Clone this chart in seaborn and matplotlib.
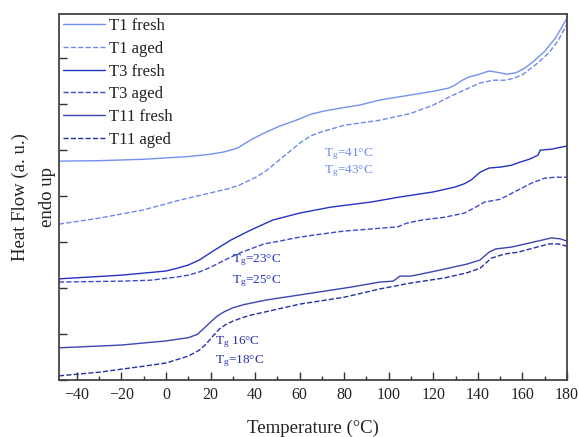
import matplotlib
matplotlib.use("Agg")
import matplotlib.pyplot as plt
import seaborn as sns
import pandas as pd
from matplotlib.ticker import MultipleLocator

# ---------------- data ----------------
t1_fresh_x = [-48, -30, -10, 0, 10, 20, 26, 32, 38, 44, 51, 59, 65, 71, 78, 87, 96, 110, 120, 127, 130, 133, 136, 140, 145, 149, 153, 157, 161, 165, 170, 175, 180]
t1_fresh_y = [4.76, 4.77, 4.80, 4.83, 4.86, 4.91, 4.96, 5.04, 5.22, 5.37, 5.52, 5.66, 5.78, 5.85, 5.91, 5.98, 6.09, 6.20, 6.28, 6.35, 6.42, 6.52, 6.59, 6.64, 6.72, 6.69, 6.65, 6.68, 6.78, 6.93, 7.15, 7.45, 7.87]

t1_aged_x = [-48, -30, -10, 6, 20, 28, 33, 40, 45, 50, 55, 60, 65, 70, 80, 96, 110, 120, 129, 135, 141, 147, 152, 156, 160, 166, 172, 176, 180]
t1_aged_y = [3.39, 3.52, 3.70, 3.91, 4.07, 4.16, 4.24, 4.40, 4.55, 4.75, 4.95, 5.15, 5.31, 5.40, 5.54, 5.65, 5.80, 5.98, 6.20, 6.33, 6.46, 6.52, 6.52, 6.56, 6.64, 6.86, 7.12, 7.38, 7.74]

t3_fresh_x = [-48, -20, 0, 5, 10, 15, 22, 29, 38, 48, 60, 74, 92, 105, 120, 130, 134, 137, 141, 145, 150, 155, 159, 163, 167, 168, 173, 180]
t3_fresh_y = [2.20, 2.28, 2.37, 2.43, 2.50, 2.61, 2.83, 3.04, 3.26, 3.48, 3.63, 3.76, 3.87, 3.98, 4.09, 4.20, 4.27, 4.35, 4.52, 4.61, 4.63, 4.67, 4.74, 4.80, 4.89, 5.00, 5.02, 5.09]

t3_aged_x = [-48, -20, -7, 5, 10, 15, 19, 22, 26, 29, 34, 38, 44, 51, 58, 66, 80, 96, 104, 108, 115, 125, 134, 139, 143, 150, 158, 164, 170, 175, 180]
t3_aged_y = [2.13, 2.15, 2.17, 2.24, 2.28, 2.35, 2.43, 2.50, 2.60, 2.67, 2.78, 2.85, 2.96, 3.02, 3.09, 3.15, 3.24, 3.30, 3.33, 3.41, 3.48, 3.54, 3.63, 3.76, 3.87, 3.93, 4.13, 4.28, 4.39, 4.41, 4.41]

t11_fresh_x = [-48, -20, 0, 10, 14, 17, 20, 23, 26, 30, 35, 45, 60, 83, 96, 102, 105, 110, 123, 135, 141, 145, 148, 155, 165, 173, 177, 180]
t11_fresh_y = [0.70, 0.76, 0.85, 0.92, 0.99, 1.12, 1.26, 1.39, 1.48, 1.57, 1.64, 1.74, 1.85, 2.02, 2.13, 2.15, 2.26, 2.26, 2.39, 2.52, 2.61, 2.78, 2.85, 2.89, 3.00, 3.09, 3.07, 3.02]

t11_aged_x = [-48, -30, -10, 0, 10, 15, 18, 21, 24, 27, 30, 34, 38, 50, 60, 80, 96, 110, 125, 135, 141, 146, 152, 158, 165, 172, 176, 180]
t11_aged_y = [0.09, 0.17, 0.30, 0.37, 0.52, 0.65, 0.78, 0.95, 1.11, 1.21, 1.28, 1.35, 1.41, 1.54, 1.65, 1.80, 1.98, 2.11, 2.22, 2.33, 2.43, 2.65, 2.74, 2.78, 2.87, 2.96, 2.96, 2.91]

series_names = ["T1 fresh", "T1 aged", "T3 fresh", "T3 aged", "T11 fresh", "T11 aged"]
series_x = [t1_fresh_x, t1_aged_x, t3_fresh_x, t3_aged_x, t11_fresh_x, t11_aged_x]
series_y = [t1_fresh_y, t1_aged_y, t3_fresh_y, t3_aged_y, t11_fresh_y, t11_aged_y]
series_colors = ["#7490f2", "#6d89ee", "#2433c4", "#3a48d0", "#3c46b4", "#2430a6"]
series_styles = ["-", "--", "-", "--", "-", "--"]

annot_texts = ["T$_g$=41°C", "T$_g$=43°C", "T$_g$=23°C", "T$_g$=25°C", "T$_g$ 16°C", "T$_g$=18°C"]
annot_x = [71, 71, 29.5, 29.5, 22, 22]
annot_y = [4.92, 4.55, 2.60, 2.16, 0.83, 0.40]
annot_colors = ["#6d89ee", "#6d89ee", "#2433c4", "#2433c4", "#2430a6", "#2430a6"]

# ---------------- plot ----------------
sns.set_theme(style="white")
plt.rcParams['font.family'] = ['Liberation Serif', 'DejaVu Serif']
plt.rcParams['mathtext.fontset'] = 'custom'
plt.rcParams['mathtext.rm'] = 'Liberation Serif'
plt.rcParams['mathtext.it'] = 'Liberation Serif'

fig = plt.figure(figsize=(5.79, 4.37), dpi=100)
ax = fig.add_axes([59 / 579, 1 - 380 / 437, (567 - 59) / 579, (380 - 14) / 437])

for name, xs, ys, c, ls in zip(series_names, series_x, series_y, series_colors, series_styles):
    df = pd.DataFrame({"Temperature": xs, "HeatFlow": ys})
    sns.lineplot(data=df, x="Temperature", y="HeatFlow", ax=ax, color=c,
                 linestyle=ls, linewidth=1.0, label=name)

for t, x, y, c in zip(annot_texts, annot_x, annot_y, annot_colors):
    ax.text(x, y, t, color=c, fontsize=9.5, ha="left", va="center")

ax.set_xlim(-48, 180)
ax.set_ylim(0, 7.96)
ax.xaxis.set_major_locator(MultipleLocator(20))
ax.xaxis.set_minor_locator(MultipleLocator(10))
ax.yaxis.set_major_locator(MultipleLocator(1))
ax.set_yticklabels([])
ax.tick_params(axis="x", which="major", direction="in", length=6, width=1, color="#333333",
               bottom=True, top=False, labelsize=11.5, pad=5, labelcolor="#222222")
ax.tick_params(axis="x", which="minor", direction="in", length=3, width=1, color="#333333",
               bottom=True, top=False)
ax.tick_params(axis="y", which="major", direction="in", length=6, width=1, color="#333333",
               left=True, right=False)

for sp in ax.spines.values():
    sp.set_visible(True)
    sp.set_color("#444444")
    sp.set_linewidth(1.3)

ax.set_xlabel("Temperature (°C)", fontsize=13.5, labelpad=12, color="#222222")
ax.set_ylabel("Heat Flow (a. u.)\nendo up", fontsize=13.5, labelpad=-1.5, color="#222222",
              linespacing=1.75)

leg = ax.legend(loc="upper left", frameon=False, fontsize=12, handlelength=2.5,
                labelspacing=0.4, borderaxespad=0.1, borderpad=0.15, handletextpad=0.25)
for txt in leg.get_texts():
    txt.set_color("#222222")

fig.savefig("out.png", dpi=100)
